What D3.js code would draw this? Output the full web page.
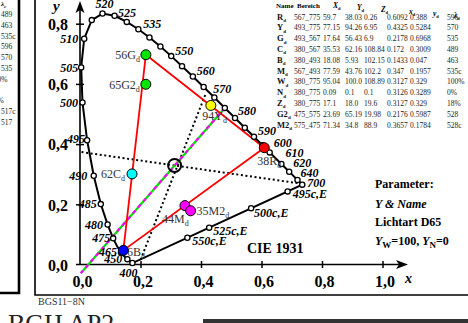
<!DOCTYPE html>
<html><head><meta charset="utf-8">
<script src="https://cdn.jsdelivr.net/npm/d3@7/dist/d3.min.js"></script>
<style>
html,body{margin:0;padding:0;background:#fff;overflow:hidden}
svg{display:block}
text{font-family:"Liberation Serif","Times New Roman",serif}
</style></head><body>
<svg id="chart" width="468" height="323"></svg>
<script>
// CIE 1931 2° spectral locus, 5 nm steps
const locusNm = [380,385,390,395,400,405,410,415,420,425,430,435,440,445,450,455,460,465,470,475,480,485,490,495,500,505,510,515,520,525,530,535,540,545,550,555,560,565,570,575,580,585,590,595,600,605,610,615,620,625,630,635,640,645,650,655,660,665,670,675,680,685,690,695,700];
const locusX = [0.1741,0.1740,0.1738,0.1736,0.1733,0.1730,0.1726,0.1721,0.1714,0.1703,0.1689,0.1669,0.1644,0.1611,0.1566,0.1510,0.1440,0.1355,0.1241,0.1096,0.0913,0.0687,0.0454,0.0235,0.0082,0.0039,0.0139,0.0389,0.0743,0.1142,0.1547,0.1929,0.2296,0.2658,0.3016,0.3373,0.3731,0.4087,0.4441,0.4788,0.5125,0.5448,0.5752,0.6029,0.6270,0.6482,0.6658,0.6801,0.6915,0.7006,0.7079,0.7140,0.7190,0.7230,0.7260,0.7283,0.7300,0.7311,0.7320,0.7327,0.7334,0.7340,0.7344,0.7346,0.7347];
const locusY = [0.0050,0.0050,0.0049,0.0049,0.0048,0.0048,0.0048,0.0048,0.0051,0.0058,0.0069,0.0086,0.0109,0.0138,0.0177,0.0227,0.0297,0.0399,0.0578,0.0868,0.1327,0.2007,0.2950,0.4127,0.5384,0.6548,0.7502,0.8120,0.8338,0.8262,0.8059,0.7816,0.7543,0.7243,0.6923,0.6589,0.6245,0.5896,0.5547,0.5202,0.4866,0.4544,0.4242,0.3965,0.3725,0.3514,0.3340,0.3197,0.3083,0.2993,0.2920,0.2859,0.2809,0.2770,0.2740,0.2717,0.2700,0.2689,0.2680,0.2673,0.2666,0.2660,0.2656,0.2654,0.2653];

// wavelengths carrying a marker circle and those carrying a number
const markedNm = [400,450,465,475,480,485,490,495,500,505,510,515,520,525,530,535,540,545,550,555,560,565,570,575,580,585,590,595,600,610,620,640,700];
const labeledNm = [400,450,465,475,480,485,490,495,500,505,510,520,525,535,550,560,570,580,590,600,610,620,640,700];

// compensatory wavelengths (illuminant E) on the purple line
const compLabel = ["550c,E","525c,E","500c,E","495c,E"];
const compX = [0.3549,0.4270,0.5656,0.6864];
const compY = [0.0890,0.1225,0.1868,0.2428];

// colour table
const rowName  = ["R","Y","G","C","B","M","W","N","Z","G2","M2"];
const rowRange = ["567_775","493_775","493_567","380_567","380_493","567_493","380_775","380_775","380_775","475_575","575_475"];
const rowXd = ["59.7","77.15","17.64","35.53","18.08","77.59","95.04","0.09","17.1","23.69","71.34"];
const rowYd = ["38.03","94.26","56.43","62.16","5.93","43.76","100.0","0.1","18.0","65.19","34.8"];
const rowZd = ["0.26","6.95","6.9","108.84","102.15","102.2","108.89","0.1","19.6","19.98","88.9"];
const rowx  = ["0.6092","0.4325","0.2178","0.172","0.1433","0.347","0.3127","0.3126","0.3127","0.2176","0.3657"];
const rowy  = ["0.388","0.5284","0.6968","0.3009","0.047","0.1957","0.329","0.3289","0.329","0.5987","0.1784"];
const rowLam = ["596","570","535","489","463","535c","100%","0%","18%","528","528c"];

// samples plotted as filled dots
const dotNames  = ["G","G2","C","Y","R","M","M2","B"];
const dotColors = ["#00e600","#00e600","#00ffff","#ffff00","#ff0000","#ff00ff","#ff00ff","#0000ff"];

// neighbouring table column (cut off at the left)
const sideLam = ["489","463","535c","596","570","535","100%","","18%","517c","517"];

// auxiliary lines
const dashX = [0.4788, 0.0025], dashY = [0.5202, -0.029];
const dotAX = [0.005, 0.7228], dotAY = [0.3735, 0.2698];
const dotBX = [0.4139, 0.2010], dotBY = [0.5631, 0.0175];
const white = {x: 0.3127, y: 0.329};

const tickVals = [0, 0.2, 0.4, 0.6, 0.8, 1.0];
const yTickVals = [0, 0.2, 0.4, 0.6, 0.8];

const svg = d3.select("#chart");
const sx = d3.scaleLinear().domain([0, 1]).range([80, 382.5]);
const sy = d3.scaleLinear().domain([0, 1]).range([264.5, -36.5]);
const fmt = d => d3.format(".1f")(d).replace(".", ",");
const serif = '"Liberation Serif","Times New Roman",serif';

// frames
svg.append("path").attr("d", "M19,-2V293H-2").attr("fill", "none").attr("stroke", "#000").attr("stroke-width", 2.6);
svg.append("path").attr("d", "M35,-2V295H470").attr("fill", "none").attr("stroke", "#000").attr("stroke-width", 1.6);

// neighbouring column fragment
svg.append("text").attr("x", 1).attr("y", 6).attr("font-size", 7).attr("font-style", "italic").attr("font-weight", "bold")
  .text("λ").append("tspan").attr("font-size", 5).attr("dy", 2).text("c");
sideLam.forEach((t, i) => {
  const w = t.endsWith("%") ? -10 : 1;
  svg.append("text").attr("x", w).attr("y", 17 + i * 10.8).attr("font-size", 7.5).attr("fill", "#222").text(t);
});

// axes
const gx = svg.append("g").attr("transform", "translate(0,264.5)")
  .call(d3.axisBottom(sx).tickValues(tickVals).tickFormat(fmt).tickSize(0).tickPadding(0));
gx.select(".domain").remove();
gx.selectAll(".tick line").attr("y1", -3.5).attr("y2", 3.5).attr("stroke-width", 1.5)
  .filter(d => d === 0).remove();
gx.selectAll(".tick text").attr("y", 22).attr("dy", 0).attr("dx", 2)
  .attr("font-family", serif).attr("font-size", 16).attr("font-weight", "bold").attr("fill", "#000");

const gy = svg.append("g").attr("transform", "translate(80,0)")
  .call(d3.axisLeft(sy).tickValues(yTickVals).tickFormat(fmt).tickSize(0).tickPadding(0));
gy.select(".domain").remove();
gy.selectAll(".tick line").attr("x1", -4).attr("x2", 4).attr("stroke-width", 1.5)
  .filter(d => d === 0).remove();
gy.selectAll(".tick text").attr("x", -12).attr("dy", "0.36em")
  .attr("font-family", serif).attr("font-size", 16).attr("font-weight", "bold").attr("fill", "#000");

svg.append("line").attr("x1", 76).attr("x2", 400).attr("y1", sy(0)).attr("y2", sy(0)).attr("stroke", "#000").attr("stroke-width", 1.6);
svg.append("line").attr("x1", sx(0)).attr("x2", sx(0)).attr("y1", sy(0)).attr("y2", 8).attr("stroke", "#000").attr("stroke-width", 1.6);
svg.append("path").attr("d", `M408,${sy(0)}L396,${sy(0) - 4.5}L399,${sy(0)}L396,${sy(0) + 4.5}Z`).attr("fill", "#000");
svg.append("path").attr("d", `M${sx(0)},1L${sx(0) - 4.5},13L${sx(0)},10L${sx(0) + 4.5},13Z`).attr("fill", "#000");
svg.append("text").attr("x", 53).attr("y", 11).attr("font-size", 15).attr("font-style", "italic").attr("font-weight", "bold").text("y");
svg.append("text").attr("x", 405).attr("y", 283).attr("font-size", 14).attr("font-style", "italic").attr("font-weight", "bold").text("x");

// table
const tab = svg.append("g").attr("font-size", 7.5);
const colStart = [277, 294, 323, 345, 364, 387, 410, 447];
const head = tab.append("text").attr("y", 8).attr("font-weight", "bold").attr("font-size", 7);
head.append("tspan").attr("x", 276).text("Name");
head.append("tspan").attr("x", 297).text("Bereich");
[["X", 333], ["Y", 357], ["Z", 381], ["x", 409], ["y", 433], ["λ", 454]].forEach(([s, xx]) => {
  head.append("tspan").attr("x", xx).attr("font-style", "italic").attr("font-size", 7.5).text(s);
  head.append("tspan").attr("font-size", 4.5).attr("dy", 2).text("d");
  head.append("tspan").attr("dy", -2).text("");
});
rowName.forEach((n, i) => {
  const yy = 19.5 + i * 10.8;
  const t = tab.append("text").attr("y", yy).attr("fill", "#111");
  t.append("tspan").attr("x", colStart[0]).attr("font-weight", "bold").attr("font-size", 8.5).text(n);
  t.append("tspan").attr("font-weight", "bold").attr("font-size", 5).attr("dy", 2.5).text("d");
  const vals = [rowRange[i], rowXd[i], rowYd[i], rowZd[i], rowx[i], rowy[i], rowLam[i]];
  vals.forEach((v, j) => {
    tab.append("text").attr("x", colStart[j + 1]).attr("y", yy).attr("fill", "#222").text(v);
  });
});

// auxiliary lines
const line = d3.line().x(d => sx(d[0])).y(d => sy(d[1]));
svg.append("path").attr("d", line(d3.zip(dotAX, dotAY))).attr("stroke", "#000").attr("stroke-width", 2).attr("stroke-dasharray", "2,2.6").attr("fill", "none");
svg.append("path").attr("d", line(d3.zip(dotBX, dotBY))).attr("stroke", "#000").attr("stroke-width", 2).attr("stroke-dasharray", "2,2.6").attr("fill", "none");
svg.append("path").attr("d", line(d3.zip(dashX, dashY))).attr("stroke", "#00e000").attr("stroke-width", 2.2).attr("fill", "none");
svg.append("path").attr("d", line(d3.zip(dashX, dashY))).attr("stroke", "#ff00ff").attr("stroke-width", 2.2).attr("stroke-dasharray", "4,4").attr("fill", "none");

// colour triangle R-G-B
const byName = n => rowName.indexOf(n);
const pt = n => [+rowx[byName(n)], +rowy[byName(n)]];
svg.append("path").attr("d", line([pt("R"), pt("G"), pt("B"), pt("R")])).attr("stroke", "#ff0000").attr("stroke-width", 1.8).attr("fill", "none");

// spectral locus closed by the purple line
const loc = locusNm.map((n, i) => [locusX[i], locusY[i]]).filter((d, i) => locusNm[i] >= 400);
svg.append("path").attr("d", line(loc) + "Z").attr("stroke", "#000").attr("stroke-width", 2).attr("fill", "none");

// compensatory points
compLabel.forEach((l, i) => {
  svg.append("circle").attr("cx", sx(compX[i])).attr("cy", sy(compY[i])).attr("r", 2.6).attr("fill", "#fff").attr("stroke", "#000").attr("stroke-width", 1.3);
});

markedNm.forEach(n => {
  const i = locusNm.indexOf(n);
  svg.append("circle").attr("cx", sx(locusX[i])).attr("cy", sy(locusY[i])).attr("r", 2.6).attr("fill", "#fff").attr("stroke", "#000").attr("stroke-width", 1.3);
});

// wavelength numbers
const nudge = {
  400: [-4, 14, "middle"], 450: [-5, 4, "end"], 465: [-4, 4, "end"], 475: [-3, 4, "end"], 480: [-4.5, 4, "end"],
  485: [-4, 4, "end"], 490: [-6.5, 4.5, "end"], 495: [-2, 3, "end"], 500: [-4.5, 4.5, "end"], 505: [-3, 4.5, "end"],
  510: [-6, 4.5, "end"], 520: [-7, -5.5, "start"], 525: [3.5, 1, "start"], 535: [5, -1, "start"], 550: [4, -1, "start"],
  560: [4, -1.5, "start"], 570: [-1, -4.5, "start"], 580: [3, -3, "start"], 590: [4, -2, "start"], 600: [4, -5, "start"],
  610: [4, -7, "start"], 620: [4, -5, "start"], 640: [3, -3, "start"], 700: [5, 2.5, "start"]
};
const lab = svg.append("g").attr("font-size", 12).attr("font-weight", "bold").attr("font-style", "italic");
labeledNm.forEach(n => {
  const i = locusNm.indexOf(n);
  const [dx, dy, a] = nudge[n];
  lab.append("text").attr("x", sx(locusX[i]) + dx).attr("y", sy(locusY[i]) + dy).attr("text-anchor", a).text(n);
});
const compNudge = [[5, 7], [4, 7], [3, 9], [5, 7]];
compLabel.forEach((l, i) => {
  lab.append("text").attr("x", sx(compX[i]) + compNudge[i][0]).attr("y", sy(compY[i]) + compNudge[i][1]).text(l);
});

// sample labels (rounded luminance + name)
const dotNudge = {G: [-6, 4.5, "end"], G2: [-6, 4.5, "end"], C: [-7, 4, "end"], Y: [-8.6, 14.6, "start"],
  R: [-7, 17, "start"], M: [-23, 17, "start"], M2: [6, 4.5, "start"], B: [3.7, 6, "start"]};
dotNames.forEach(n => {
  const i = byName(n);
  const [dx, dy, a] = dotNudge[n];
  const t = svg.append("text").attr("x", sx(+rowx[i]) + dx).attr("y", sy(+rowy[i]) + dy)
    .attr("text-anchor", a).attr("font-size", 12).attr("fill", "#333");
  t.append("tspan").text(Math.round(+rowYd[i]) + n);
  t.append("tspan").attr("font-size", 8).attr("dy", 3).text("d");
});

// white point marker
svg.append("circle").attr("cx", sx(white.x)).attr("cy", sy(white.y)).attr("r", 6.5).attr("fill", "none").attr("stroke", "#000").attr("stroke-width", 2);

dotNames.forEach((n, k) => {
  const i = byName(n);
  svg.append("circle").attr("cx", sx(+rowx[i])).attr("cy", sy(+rowy[i])).attr("r", 5).attr("fill", dotColors[k]).attr("stroke", "#000").attr("stroke-width", 1);
});

// annotations
svg.append("text").attr("x", 247).attr("y", 253).attr("font-size", 14).attr("font-weight", "bold").text("CIE 1931");
const par = svg.append("g").attr("font-size", 12).attr("font-weight", "bold");
par.append("text").attr("x", 375).attr("y", 188).text("Parameter:");
par.append("text").attr("x", 375).attr("y", 208).attr("font-style", "italic").text("Y & Name");
par.append("text").attr("x", 375).attr("y", 226).text("Lichtart D65");
const yw = par.append("text").attr("x", 375).attr("y", 245);
yw.append("tspan").attr("font-style", "italic").text("Y");
yw.append("tspan").attr("font-size", 9).attr("dy", 3).text("W");
yw.append("tspan").attr("dy", -3).text("=100, ");
yw.append("tspan").attr("font-style", "italic").text("Y");
yw.append("tspan").attr("font-size", 9).attr("dy", 3).text("N");
yw.append("tspan").attr("dy", -3).text("=0");

svg.append("text").attr("x", 38).attr("y", 305).attr("font-size", 10).attr("fill", "#333").text("BGS11−8N");
svg.append("text").attr("x", 8).attr("y", 332).attr("font-size", 26).attr("font-family", '"Liberation Sans",Arial,sans-serif').attr("fill", "#222").text("BGH AP2");
svg.append("rect").attr("x", 203).attr("y", 319).attr("width", 265).attr("height", 4).attr("fill", "#333");
</script>
</body></html>
